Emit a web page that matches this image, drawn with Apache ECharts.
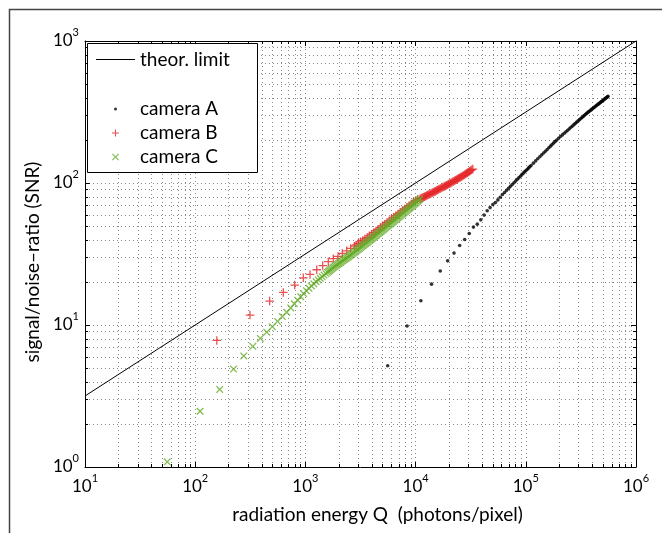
<!DOCTYPE html>
<html><head><meta charset="utf-8">
<script src="https://cdn.jsdelivr.net/npm/echarts@6/dist/echarts.min.js"></script>
<style>html,body{margin:0;padding:0;background:#fff}#c{width:662px;height:533px}</style>
</head><body><div id="c"></div>
<script>
// ---- data ----
const theorQ = [10, 1000000];
const theorSNR = [3.1623, 1000];

const aQ = [5580, 8370, 11160, 13950, 16740, 19530, 22320, 25110, 27900, 30690, 33480, 36270, 39060, 41850, 44640, 47430, 50220, 53010, 55800, 58590, 61380,
  64170, 66960, 69750, 72540, 75330, 78120, 80910, 83700, 86490, 89280, 92070, 94860, 97650, 100440, 103230, 106020, 108810, 111600,
  117180, 122760, 128340, 133920, 139500, 145080, 150660, 156240, 161820, 167400, 172980, 178560, 184140, 189720,
  198090, 206460, 214830, 223200, 231570, 239940, 248310, 256680, 265050, 273420, 281790, 290160, 298530, 306900, 315270, 323640, 332010, 340380, 348750, 357120, 365490,
  373860, 382230, 390600, 398970, 407340, 415710, 424080, 432450, 440820, 449190, 457560, 465930, 474300, 482670, 491040, 499410, 507780, 516150, 524520, 532890, 541260, 549630, 558000];
const aSNR = [5.17, 9.84, 14.8, 19.4, 24.0, 28.3, 32.1, 36.3, 40.0, 44.1, 48.9, 51.3, 55.0, 59.4, 63.7, 67.1, 70.5, 72.8, 76.0, 79.4, 82.9,
  85.8, 88.8, 91.7, 94.7, 97.5, 100.4, 103.3, 106.1, 108.9, 111.7, 114.5, 117.3, 119.9, 122.5, 125.1, 127.7, 130.3, 132.9,
  138.0, 143.1, 148.1, 152.9, 157.9, 162.7, 167.5, 172.3, 177.1, 181.8, 186.4, 191.0, 195.6, 200.1,
  206.3, 212.3, 218.2, 224.0, 229.8, 235.5, 241.1, 246.7, 252.2, 257.6, 263.0, 268.4, 273.7, 278.9, 284.1, 289.3, 294.5, 299.6, 304.6, 309.7, 314.1,
  318.5, 322.9, 327.3, 331.5, 335.8, 340.1, 344.3, 348.4, 352.6, 356.7, 360.7, 364.8, 368.8, 372.8, 376.8, 380.8, 384.7, 388.6, 392.5, 396.3, 400.2, 404.0, 407.7];

const bQ = [157, 314, 474, 630, 800, 957, 1101, 1267, 1436, 1614, 1791, 1977, 2163, 2371, 2577, 2779,
  2884, 3020, 3162, 3311, 3467, 3631, 3802, 3981, 4169, 4365, 4571, 4786, 5012,
  5248, 5495, 5754, 6026, 6310, 6607, 6918, 7244, 7586, 7943, 8318, 8710, 9120, 9550, 10000, 10470,
  10960, 11220, 11480, 11750, 12020, 12300, 12590, 12880, 13180, 13490, 13800, 14130, 14450, 14790, 15140, 15490,
  15850, 16220, 16600, 16980, 17380, 17780, 18200, 18620, 19050, 19500, 19950, 20420, 20890, 21380, 21880, 22390,
  22910, 23440, 23990, 24550, 25120, 25700, 26300, 26920, 27540, 28180, 28840, 29510, 30200, 30900, 31620, 32360, 33110];
const bSNR = [7.79, 11.75, 14.75, 16.96, 19.1, 21.5, 22.7, 24.5, 26.2, 27.9, 29.3, 30.4, 31.9, 33.3, 34.6, 35.9,
  36.6, 37.6, 38.5, 39.4, 40.4, 41.3, 42.5, 43.6, 44.8, 46.0, 47.2, 48.5, 49.9,
  51.3, 52.7, 54.2, 55.7, 57.3, 58.9, 60.5, 62.2, 64.0, 65.6, 67.5, 69.2, 71.1, 73.1, 75.0, 76.9,
  77.3, 78.0, 78.7, 79.4, 80.1, 80.8, 81.5, 82.3, 83.0, 83.8, 84.5, 85.3, 86.1, 86.8, 87.6, 88.4,
  89.3, 90.2, 91.0, 91.9, 92.8, 93.6, 94.5, 95.4, 96.3, 97.3, 98.2, 99.2, 100.2, 101.2, 102.3, 103.3,
  104.4, 105.5, 106.6, 107.8, 108.8, 110.0, 111.1, 112.5, 113.8, 115.3, 116.6, 118.1, 119.5, 121.1, 122.5, 124.1, 125.4];

const cQ = [55.8, 110.7, 166.9, 222.8, 276, 333, 390, 446, 501, 559, 617, 677, 736, 793, 850, 907, 964, 1021, 1078, 1135, 1192, 1249, 1306, 1363, 1420, 1477, 1534,
  1585, 1622, 1660, 1698, 1738, 1778, 1820, 1862, 1905, 1950, 1995, 2042, 2089, 2138, 2188, 2239, 2291, 2344, 2399, 2455, 2512,
  2570, 2630, 2692, 2754, 2818, 2884, 2951, 3020, 3090, 3162, 3236, 3311, 3388, 3467, 3548, 3631,
  3715, 3802, 3890, 3981, 4074, 4169, 4266, 4365, 4467, 4571, 4677, 4786, 4898, 5012,
  5129, 5248, 5370, 5495, 5623, 5754, 5888, 6026, 6166, 6310, 6457, 6607, 6761, 6918, 7079, 7244, 7413, 7586, 7762, 7943,
  8128, 8318, 8511, 8710, 8913, 9120, 9333, 9550, 9772, 10000, 10230, 10470, 10720, 10960];
const cSNR = [1.088, 2.47, 3.52, 4.89, 6.06, 7.08, 8.04, 8.90, 9.73, 10.6, 11.5, 12.3, 13.2, 14.11, 14.96, 15.81, 16.65, 17.44, 18.14, 18.82, 19.50, 20.16, 20.77, 21.35, 21.91, 22.47, 23.01,
  23.50, 23.85, 24.21, 24.57, 24.94, 25.29, 25.64, 25.97, 26.30, 26.64, 26.98, 27.33, 27.69, 28.06, 28.44, 28.80, 29.17, 29.54, 29.92, 30.30, 30.69,
  31.12, 31.55, 31.99, 32.43, 32.85, 33.27, 33.73, 34.20, 34.68, 35.16, 35.65, 36.14, 36.64, 37.15, 37.64, 38.14,
  38.70, 39.26, 39.81, 40.36, 40.97, 41.59, 42.17, 42.76, 43.41, 44.06, 44.67, 45.29, 45.98, 46.67,
  47.32, 47.97, 48.70, 49.43, 50.12, 50.82, 51.59, 52.36, 53.09, 53.83, 54.64, 55.46, 56.30, 57.15, 57.95, 58.75, 59.64, 60.53, 61.45, 62.37,
  63.32, 64.27, 65.24, 66.22, 67.22, 68.23, 69.27, 70.31, 71.37, 72.44, 73.63, 74.82, 76.04, 77.27];

const xMinor = [20,30,40,50,60,70,80,90,200,300,400,500,600,700,800,900,2000,3000,4000,5000,6000,7000,8000,9000,20000,30000,40000,50000,60000,70000,80000,90000,200000,300000,400000,500000,600000,700000,800000,900000];
const yMinor = [2,3,4,5,6,7,8,9,20,30,40,50,60,70,80,90,200,300,400,500,600,700,800,900];

// ---- styling ----
const FONT = 'Lato';
const RED = '#e52427';
const GREEN = '#64ab28';
const plusPath = 'path://M3.4,0H4.6V3.4H8V4.6H4.6V8H3.4V4.6H0V3.4H3.4Z';
const crossPath = 'path://M0,0.85L0.85,0L3.5,2.65L6.15,0L7,0.85L4.35,3.5L7,6.15L6.15,7L3.5,4.35L0.85,7L0,6.15L2.65,3.5Z';
function pairs(x, y) { return x.map((v, i) => [v, y[i]]); }
function powLabel(v) { const e = Math.round(Math.log10(v)); return '{b|10}{s|' + e + '}'; }
const rich = {
  b: {fontFamily: FONT, fontSize: 17, color: '#000'},
  s: {fontFamily: FONT, fontSize: 11, color: '#000', padding: [0, 0, 17, 0]}
};
const gridLine = {show: true, lineStyle: {color: '#888', type: [1, 3], width: 1}};
const axLine = {show: true, onZero: false, lineStyle: {color: '#000', width: 1}};
const axTick = {show: true, inside: true, length: 5, lineStyle: {color: '#000'}};
const legText = {fontFamily: FONT, fontSize: 19, color: '#000'};
function px(v) { return Math.round(v) + 0.5; }

const chart = echarts.init(document.getElementById('c'));
chart.setOption({
  animation: false,
  grid: {left: 85, right: 26, top: 41, bottom: 66},
  xAxis: [
    {type: 'log', logBase: 10, min: 10, max: 1000000, position: 'bottom',
      axisLine: axLine, axisTick: axTick, splitLine: gridLine,
      axisLabel: {formatter: powLabel, rich: rich, margin: 6},
      name: 'radiation energy Q  (photons/pixel)', nameLocation: 'middle', nameGap: 38,
      nameTextStyle: {fontFamily: FONT, fontSize: 19, color: '#000', padding: [0, 0, 0, 34]}},
    {type: 'log', logBase: 10, min: 10, max: 1000000, position: 'top',
      axisLine: axLine, axisTick: axTick, splitLine: {show: false}, axisLabel: {show: false}}
  ],
  yAxis: [
    {type: 'log', logBase: 10, min: 1, max: 1000, position: 'left',
      axisLine: axLine, axisTick: axTick, splitLine: gridLine,
      axisLabel: {formatter: powLabel, rich: rich, margin: 6},
      name: 'signal/noise\u2013ratio (SNR)', nameLocation: 'middle', nameGap: 34, nameRotate: 90,
      nameTextStyle: {fontFamily: FONT, fontSize: 19, color: '#000', padding: [0, 16, 0, 0]}},
    {type: 'log', logBase: 10, min: 1, max: 1000, position: 'right',
      axisLine: axLine, axisTick: axTick, splitLine: {show: false}, axisLabel: {show: false}}
  ],
  legend: [
    {data: [{name: 'theor. limit', icon: 'rect'}], left: 96, top: 50, padding: 0, itemWidth: 39, itemHeight: 1,
      textStyle: legText, selectedMode: false, z: 10},
    {data: [{name: 'camera A', icon: 'circle'}], left: 114, top: 99.5, padding: 0, itemWidth: 39, itemHeight: 3,
      textStyle: legText, selectedMode: false, z: 10},
    {data: [{name: 'camera B', icon: plusPath}, {name: 'camera C', icon: crossPath}], orient: 'vertical',
      left: 112, top: 123.5, padding: 0, itemWidth: 39, itemHeight: 7, itemGap: 5,
      textStyle: legText, selectedMode: false, z: 10}
  ],
  graphic: [
    {type: 'rect', z: 100, silent: true,
      shape: {x: 9.5, y: 9.5, width: 700, height: 600},
      style: {fill: 'none', stroke: '#444', lineWidth: 1.5}},
    {type: 'rect', z: 5, silent: true,
      shape: {x: 87.5, y: 43.5, width: 170, height: 129},
      style: {fill: '#fff', stroke: '#000', lineWidth: 1}}
  ],
  series: [
    {type: 'custom', silent: true, z: 1, clip: false, encode: {x: 0, y: 1},
      data: xMinor.map(v => [v, 1]),
      renderItem: function (params, api) {
        const v = api.value(0);
        const p0 = api.coord([v, 1]), p1 = api.coord([v, 1000]);
        const x = px(p0[0]);
        return {type: 'group', children: [
          {type: 'line', shape: {x1: x, y1: p0[1], x2: x, y2: p1[1]}, style: {stroke: '#888', lineWidth: 1, lineDash: [1, 3]}},
          {type: 'line', shape: {x1: x, y1: p0[1], x2: x, y2: p0[1] - 3}, style: {stroke: '#000', lineWidth: 1}},
          {type: 'line', shape: {x1: x, y1: p1[1], x2: x, y2: p1[1] + 3}, style: {stroke: '#000', lineWidth: 1}}
        ]};
      }},
    {type: 'custom', silent: true, z: 1, clip: false, encode: {x: 0, y: 1},
      data: yMinor.map(v => [10, v]),
      renderItem: function (params, api) {
        const v = api.value(1);
        const p0 = api.coord([10, v]), p1 = api.coord([1000000, v]);
        const y = px(p0[1]);
        return {type: 'group', children: [
          {type: 'line', shape: {x1: p0[0], y1: y, x2: p1[0], y2: y}, style: {stroke: '#888', lineWidth: 1, lineDash: [1, 3]}},
          {type: 'line', shape: {x1: p0[0], y1: y, x2: p0[0] + 3, y2: y}, style: {stroke: '#000', lineWidth: 1}},
          {type: 'line', shape: {x1: p1[0], y1: y, x2: p1[0] - 3, y2: y}, style: {stroke: '#000', lineWidth: 1}}
        ]};
      }},
    {name: 'theor. limit', type: 'line', data: pairs(theorQ, theorSNR), showSymbol: false, z: 2,
      lineStyle: {color: '#000', width: 1}, itemStyle: {color: '#000'}},
    {name: 'camera A', type: 'scatter', data: pairs(aQ, aSNR), symbol: 'circle', symbolSize: 3.6, z: 3,
      itemStyle: {color: '#000'}},
    {name: 'camera B', type: 'scatter', data: pairs(bQ, bSNR), symbol: plusPath, symbolSize: 8.5, z: 3,
      itemStyle: {color: RED}},
    {name: 'camera C', type: 'scatter', data: pairs(cQ, cSNR), symbol: crossPath, symbolSize: 7.5, z: 4,
      itemStyle: {color: GREEN}}
  ]
});
</script>
</body></html>
